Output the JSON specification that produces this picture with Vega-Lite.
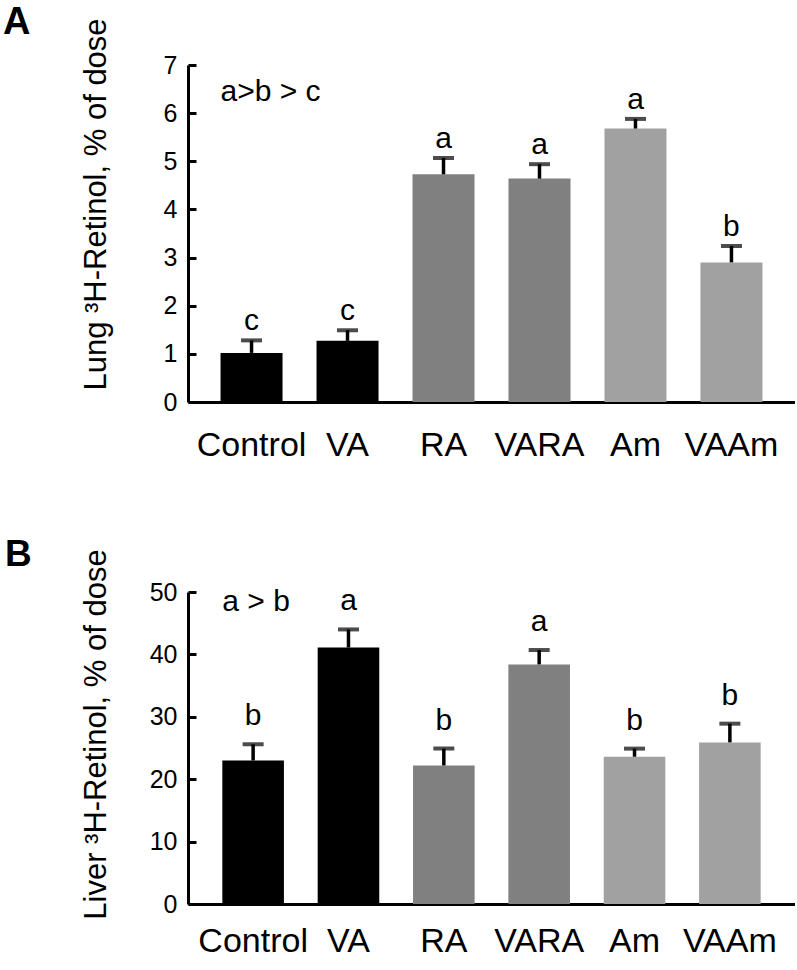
{
  "$schema": "https://vega.github.io/schema/vega-lite/v6.json",
  "background": "white",
  "padding": {"left": 3, "top": 3, "right": 0, "bottom": 0},
  "spacing": 73,
  "config": {
    "view": {"stroke": null},
    "font": "Liberation Sans",
    "axis": {
      "domainColor": "black",
      "domainWidth": 3,
      "tickColor": "black",
      "tickWidth": 3,
      "labelColor": "black",
      "titleColor": "black",
      "grid": false,
      "labelFont": "Liberation Sans",
      "titleFont": "Liberation Sans",
      "titleFontWeight": "normal"
    },
    "title": {"color": "black", "font": "Liberation Sans", "fontWeight": "bold"}
  },
  "datasets": {
    "lung": [
      {"treatment": "Control", "mean": 1.02, "upper": 1.28, "letter": "c"},
      {"treatment": "VA", "mean": 1.27, "upper": 1.49, "letter": "c"},
      {"treatment": "RA", "mean": 4.73, "upper": 5.07, "letter": "a"},
      {"treatment": "VARA", "mean": 4.64, "upper": 4.94, "letter": "a"},
      {"treatment": "Am", "mean": 5.68, "upper": 5.88, "letter": "a"},
      {"treatment": "VAAm", "mean": 2.9, "upper": 3.24, "letter": "b"}
    ],
    "liver": [
      {"treatment": "Control", "mean": 23.0, "upper": 25.6, "letter": "b"},
      {"treatment": "VA", "mean": 41.1, "upper": 44.0, "letter": "a"},
      {"treatment": "RA", "mean": 22.2, "upper": 24.9, "letter": "b"},
      {"treatment": "VARA", "mean": 38.4, "upper": 40.7, "letter": "a"},
      {"treatment": "Am", "mean": 23.6, "upper": 24.9, "letter": "b"},
      {"treatment": "VAAm", "mean": 25.9, "upper": 28.9, "letter": "b"}
    ]
  },
  "vconcat": [
    {
      "width": 607,
      "height": 337,
      "title": {"text": "A", "anchor": "start", "frame": "group", "fontSize": 38, "dx": -185, "offset": -24},
      "data": {"name": "lung"},
      "encoding": {
        "x": {
          "field": "treatment",
          "type": "nominal",
          "sort": null,
          "scale": {"paddingInner": 0.354, "paddingOuter": 0.339},
          "axis": {"ticks": false, "labelFontSize": 34, "labelPadding": 26, "labelAngle": 0, "title": null}
        }
      },
      "layer": [
        {
          "mark": {"type": "bar"},
          "encoding": {
            "y": {
              "field": "mean",
              "type": "quantitative",
              "scale": {"domain": [0, 7], "nice": false},
              "axis": {
                "values": [0, 1, 2, 3, 4, 5, 6, 7],
                "tickSize": -8,
                "labelFontSize": 25,
                "labelPadding": 19,
                "title": "Lung ³H-Retinol, % of dose",
                "titleFontSize": 31,
                "titleX": -76,
                "titleY": 139
              }
            },
            "color": {
              "field": "treatment",
              "type": "nominal",
              "scale": {"domain": ["Control", "VA", "RA", "VARA", "Am", "VAAm"], "range": ["#000000", "#000000", "#808080", "#808080", "#a1a1a1", "#a1a1a1"]},
              "legend": null
            }
          }
        },
        {
          "mark": {"type": "rule", "strokeWidth": 3.5, "color": "black"},
          "encoding": {"y": {"field": "mean", "type": "quantitative"}, "y2": {"field": "upper"}}
        },
        {
          "mark": {"type": "tick", "orient": "horizontal", "size": 21, "thickness": 4, "color": "black"},
          "encoding": {"y": {"field": "upper", "type": "quantitative"}}
        },
        {
          "mark": {"type": "text", "dy": -10, "baseline": "alphabetic", "fontSize": 30, "color": "black"},
          "encoding": {"y": {"field": "upper", "type": "quantitative"}, "text": {"field": "letter"}}
        },
        {
          "data": {"values": [{"note": "a>b > c"}]},
          "mark": {"type": "text", "align": "left", "baseline": "alphabetic", "fontSize": 30, "color": "black"},
          "encoding": {
            "x": {"datum": "Control", "bandPosition": 0},
            "y": {"datum": 6.26, "type": "quantitative"},
            "text": {"field": "note"}
          }
        }
      ]
    },
    {
      "width": 607,
      "height": 312,
      "title": {"text": "B", "anchor": "start", "frame": "group", "fontSize": 37, "dx": -183, "offset": -25},
      "data": {"name": "liver"},
      "encoding": {
        "x": {
          "field": "treatment",
          "type": "nominal",
          "sort": null,
          "scale": {"paddingInner": 0.354, "paddingOuter": 0.36},
          "axis": {"ticks": false, "labelFontSize": 34, "labelPadding": 20, "labelAngle": 0, "title": null}
        }
      },
      "layer": [
        {
          "mark": {"type": "bar"},
          "encoding": {
            "y": {
              "field": "mean",
              "type": "quantitative",
              "scale": {"domain": [0, 50], "nice": false},
              "axis": {
                "values": [0, 10, 20, 30, 40, 50],
                "tickSize": -8,
                "labelFontSize": 25,
                "labelPadding": 19,
                "title": "Liver ³H-Retinol, % of dose",
                "titleFontSize": 31,
                "titleX": -76,
                "titleY": 142
              }
            },
            "color": {
              "field": "treatment",
              "type": "nominal",
              "scale": {"domain": ["Control", "VA", "RA", "VARA", "Am", "VAAm"], "range": ["#000000", "#000000", "#808080", "#808080", "#a1a1a1", "#a1a1a1"]},
              "legend": null
            }
          }
        },
        {
          "mark": {"type": "rule", "strokeWidth": 3.5, "color": "black"},
          "encoding": {"y": {"field": "mean", "type": "quantitative"}, "y2": {"field": "upper"}}
        },
        {
          "mark": {"type": "tick", "orient": "horizontal", "size": 21, "thickness": 4, "color": "black"},
          "encoding": {"y": {"field": "upper", "type": "quantitative"}}
        },
        {
          "mark": {"type": "text", "dy": -19, "baseline": "alphabetic", "fontSize": 30, "color": "black"},
          "encoding": {"y": {"field": "upper", "type": "quantitative"}, "text": {"field": "letter"}}
        },
        {
          "data": {"values": [{"note": "a > b"}]},
          "mark": {"type": "text", "align": "left", "baseline": "alphabetic", "fontSize": 30, "color": "black"},
          "encoding": {
            "x": {"datum": "Control", "bandPosition": 0},
            "y": {"datum": 46.9, "type": "quantitative"},
            "text": {"field": "note"}
          }
        }
      ]
    }
  ]
}
